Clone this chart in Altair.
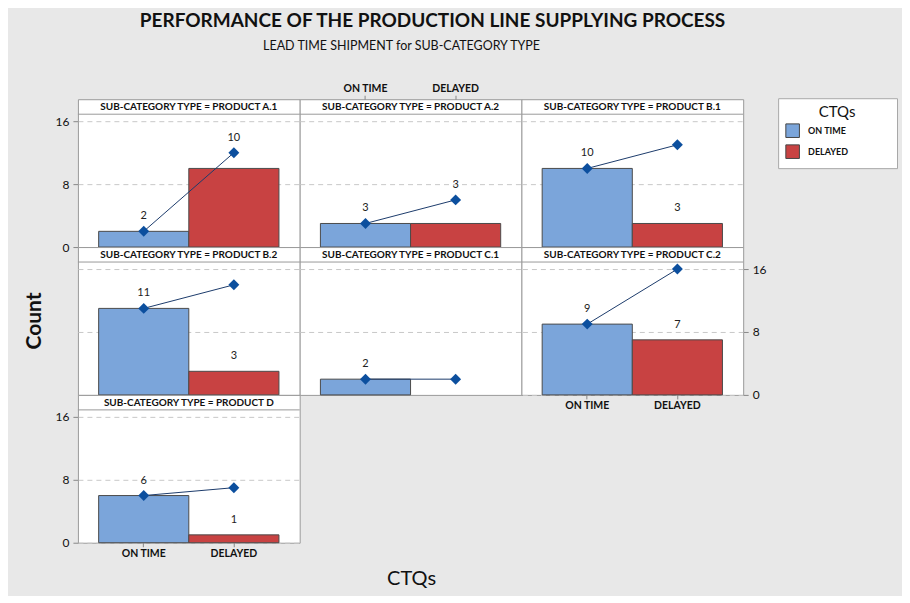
import altair as alt
import pandas as pd

# ---- data ----
products = ["PRODUCT A.1", "PRODUCT A.2", "PRODUCT B.1", "PRODUCT B.2",
            "PRODUCT C.1", "PRODUCT C.2", "PRODUCT D"]
ctqs = ["ON TIME", "DELAYED"]
on_time = [2, 3, 10, 11, 2, 9, 6]
delayed = [10, 3, 3, 3, 0, 7, 1]
y_ticks = [0, 8, 16]
bar_colors = ["#7ba5da", "#c84242"]

rows = []
for p, o, d in zip(products, on_time, delayed):
    rows.append({"product": p, "ctq": "ON TIME", "count": o, "cum": o})
    rows.append({"product": p, "ctq": "DELAYED", "count": d, "cum": o + d})
df = pd.DataFrame(rows)

FONT = "Lato"
W, H = 222, 148
YMAX = 18.8
GRID = "#c8c8c8"
BORDER = "#9a9a9a"
PAD = "\u00a0" * 19 + "\u200b"  # invisible padding widens the legend box like the reference

color_enc = alt.Color(
    "ctq:N",
    scale=alt.Scale(domain=ctqs, range=bar_colors),
    legend=alt.Legend(
        orient="none", legendX=701, legendY=-1, title="CTQs",
        titleFont=FONT, titleFontSize=15, titleFontWeight="normal",
        titleAnchor="middle", titleColor="#111", titlePadding=3,
        labelFont=FONT, labelFontSize=9, labelFontWeight="bold", labelColor="#111",
        labelExpr="datum.label + '" + PAD + "'",
        symbolType="square", symbolSize=185, symbolStrokeColor="#444",
        symbolStrokeWidth=1, symbolOpacity=1, fillColor="white",
        strokeColor="#a8a8a8", padding=7, rowPadding=2, labelOffset=8,
    ),
)


def x_axis(kind):
    if kind is None:
        return None
    return alt.Axis(orient=kind, labelAngle=0, labelFont=FONT, labelFontSize=10.5,
                    labelFontWeight="bold", labelColor="#111", tickSize=4,
                    tickColor="#888", domain=False, labelPadding=2, title=None)


def y_axis(kind):
    if kind is None:
        return alt.Axis(values=[8, 16], labels=False, ticks=False, domain=False,
                        grid=True, gridDash=[5, 4], gridColor=GRID, title=None)
    return alt.Axis(orient=kind, values=y_ticks, grid=True, gridDash=[5, 4],
                    gridColor=GRID, domain=False, tickSize=5, tickColor="#888",
                    labelFont=FONT, labelFontSize=12, labelColor="#111",
                    labelPadding=4, title=None)


def panel(i, yk=None, xk=None, extras=()):
    p = products[i]
    base = alt.Chart(df).transform_filter(alt.datum.product == p)
    xs = alt.X("ctq:N", sort=ctqs,
               scale=alt.Scale(domain=ctqs, paddingInner=0, paddingOuter=0.23),
               axis=x_axis(xk), title=None)
    ysc = alt.Scale(domain=[0, YMAX], nice=False, zero=True)
    bars = base.transform_filter(alt.datum.count > 0).mark_bar(
        stroke="#4a4a4a", strokeWidth=1).encode(
        x=xs, y=alt.Y("count:Q", scale=ysc, axis=y_axis(yk), title=None),
        color=color_enc)
    line = base.mark_line(color="#1c3b6b", strokeWidth=1).encode(
        x=xs, y=alt.Y("cum:Q", scale=ysc, title=None))
    pts = base.mark_point(shape="diamond", filled=True, size=120, color="#0c4f9e",
                          opacity=1).encode(
        x=xs, y=alt.Y("cum:Q", scale=ysc, title=None))
    labels = base.transform_filter(alt.datum.count > 0).transform_calculate(
        lab=alt.expr.if_(alt.datum.cum - alt.datum.count < 4, alt.datum.cum, alt.datum.count)
    ).mark_text(font=FONT, fontSize=11, color="#222", dy=-15, baseline="middle").encode(
        x=xs, y=alt.Y("lab:Q", scale=ysc, title=None), text="count:Q")
    head_df = pd.DataFrame({"t": ["SUB-CATEGORY TYPE = " + p]})
    head_rule = alt.Chart(head_df).mark_rule(color=BORDER, strokeWidth=1).encode(
        x=alt.value(0), x2=alt.value(W), y=alt.value(15))
    head_txt = alt.Chart(head_df).mark_text(
        font=FONT, fontSize=10, fontWeight="bold", color="#111", baseline="middle").encode(
        x=alt.value(W / 2), y=alt.value(8), text="t:N")
    layers = [bars, line, pts, labels, head_rule, head_txt] + list(extras)
    return alt.layer(*layers).properties(width=W, height=H)


txt_df = pd.DataFrame({
    "title": ["PERFORMANCE OF THE PRODUCTION LINE SUPPLYING PROCESS"],
    "sub": ["LEAD TIME SHIPMENT for SUB-CATEGORY TYPE"],
    "ylab": ["Count"],
    "xlab": ["CTQs"],
})

# invisible frame so the grey background spans the whole page
anchor = alt.Chart(txt_df).mark_rule(opacity=0, color="white").encode(
    x=alt.value(-69), x2=alt.value(824), y=alt.value(-90), y2=alt.value(496))
title = alt.Chart(txt_df).mark_text(font=FONT, fontSize=19, fontWeight="bold",
                                    color="#111", baseline="middle").encode(
    x=alt.value(355), y=alt.value(-78), text="title:N")
subtitle = alt.Chart(txt_df).mark_text(font=FONT, fontSize=12.5, color="#111",
                                       baseline="middle").encode(
    x=alt.value(324), y=alt.value(-53), text="sub:N")
ylab = alt.Chart(txt_df).mark_text(font=FONT, fontSize=21, fontWeight="bold",
                                   color="#111", angle=270, baseline="middle").encode(
    x=alt.value(-43), y=alt.value(222), text="ylab:N")
xlab = alt.Chart(txt_df).mark_text(font=FONT, fontSize=20, color="#111",
                                   baseline="middle").encode(
    x=alt.value(334), y=alt.value(184), text="xlab:N")

panels = [
    panel(0, yk="left", extras=[anchor, title, subtitle, ylab]),
    panel(1, xk="top"),
    panel(2),
    panel(3),
    panel(4),
    panel(5, yk="right", xk="bottom"),
    panel(6, yk="left", xk="bottom", extras=[xlab]),
]

chart = alt.concat(*panels, columns=3, spacing=0, bounds="flush", padding=0).configure(
    background="#e8e8e8"
).configure_view(fill="white", stroke=BORDER, strokeWidth=1)

chart.save("out.html", embed_options={"renderer": "svg", "actions": False})
